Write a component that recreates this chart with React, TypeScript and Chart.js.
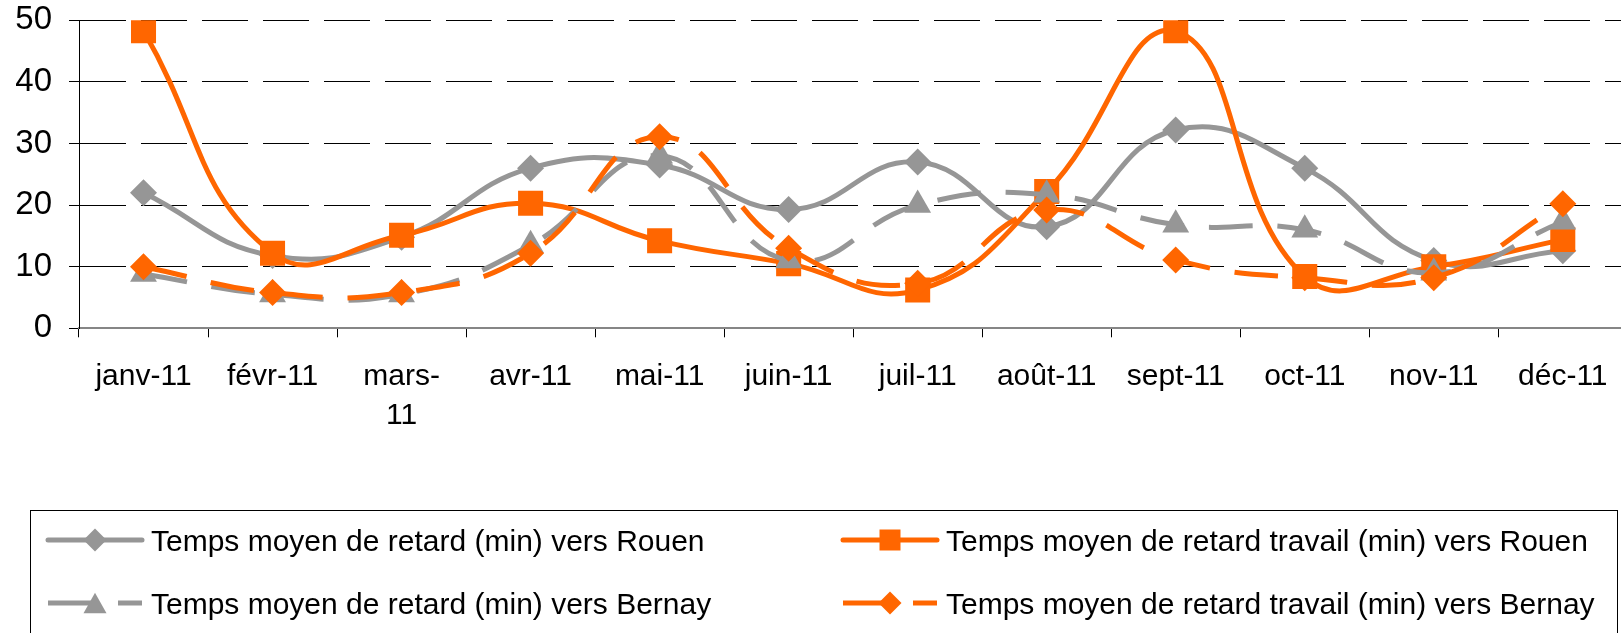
import React, { useEffect, useRef } from 'react';
import { Chart, registerables } from 'chart.js';

Chart.register(...registerables);

// ---- data ----
const CATEGORIES: (string | string[])[] = [
  'janv-11', 'févr-11', ['mars-', '11'], 'avr-11', 'mai-11', 'juin-11',
  'juil-11', 'août-11', 'sept-11', 'oct-11', 'nov-11', 'déc-11',
];
const SERIES_LABELS = [
  'Temps moyen de retard (min) vers Rouen',
  'Temps moyen de retard travail (min) vers Rouen',
  'Temps moyen de retard (min) vers Bernay',
  'Temps moyen de retard travail (min) vers Bernay',
];
const RETARD_ROUEN = [22, 11.8, 14.8, 26, 26.5, 19.3, 27, 16.5, 32.2, 26, 11, 12.6];
const TRAVAIL_ROUEN = [48.3, 12.2, 15.1, 20.3, 14.2, 10.5, 6.2, 22.2, 48.3, 8.4, 10, 14.4];
const RETARD_BERNAY = [8.8, 5.5, 5.5, 13.5, 28, 11, 20, 21.7, 16.8, 16, 9, 17.3];
const TRAVAIL_BERNAY = [10, 5.8, 5.8, 12.2, 31.1, 13, 7.3, 19.2, 11.1, 8.2, 8.2, 20.2];
const Y_TICKS = [0, 10, 20, 30, 40, 50];

const GRAY = '#969696';
const ORANGE = '#FF6600';
const FONT = "'Liberation Sans', Arial, sans-serif";

type Style = { color: string; dashed: boolean; shape: 'rectRot' | 'rect' | 'triangle' };
const STYLES: Style[] = [
  { color: GRAY, dashed: false, shape: 'rectRot' },
  { color: ORANGE, dashed: false, shape: 'rect' },
  { color: GRAY, dashed: true, shape: 'triangle' },
  { color: ORANGE, dashed: true, shape: 'rectRot' },
];

function drawMarker(ctx: CanvasRenderingContext2D, shape: string, x: number, y: number, s: number) {
  ctx.beginPath();
  if (shape === 'rect') {
    ctx.rect(x - s / 2, y - s / 2, s, s);
  } else if (shape === 'rectRot') {
    const r = s / 2;
    ctx.moveTo(x - r, y);
    ctx.lineTo(x, y - r);
    ctx.lineTo(x + r, y);
    ctx.lineTo(x, y + r);
    ctx.closePath();
  } else {
    const h = s * 0.9;
    ctx.moveTo(x, y - h / 2);
    ctx.lineTo(x + s / 2, y + h / 2);
    ctx.lineTo(x - s / 2, y + h / 2);
    ctx.closePath();
  }
  ctx.fill();
}

const legendPlugin = {
  id: 'boxLegend',
  afterDraw(chart: any) {
    const ctx: CanvasRenderingContext2D = chart.ctx;
    ctx.save();
    ctx.strokeStyle = '#000';
    ctx.lineWidth = 1;
    ctx.setLineDash([]);
    ctx.strokeRect(30.5, 510.5, 1587, 200);
    const cols = [48, 843];
    const rows = [540, 603];
    SERIES_LABELS.forEach((label, i) => {
      const st = STYLES[i];
      const x0 = cols[i % 2];
      const x1 = x0 + 94;
      const y = rows[Math.floor(i / 2)];
      ctx.strokeStyle = st.color;
      ctx.fillStyle = st.color;
      ctx.lineWidth = 5;
      if (st.dashed) {
        ctx.setLineDash([44, 26]);
        ctx.lineCap = 'butt';
      } else {
        ctx.setLineDash([]);
        ctx.lineCap = 'round';
      }
      ctx.beginPath();
      ctx.moveTo(x0, y);
      ctx.lineTo(x1, y);
      ctx.stroke();
      ctx.setLineDash([]);
      drawMarker(ctx, st.shape, (x0 + x1) / 2, y, st.shape === 'rect' ? 21 : 23);
      ctx.fillStyle = '#000';
      ctx.font = `30px ${FONT}`;
      ctx.textAlign = 'left';
      ctx.textBaseline = 'alphabetic';
      ctx.fillText(label, x1 + 9, y + 10.7);
    });
    ctx.restore();
  },
};

export default function App() {
  const ref = useRef<HTMLCanvasElement | null>(null);

  useEffect(() => {
    if (!ref.current) return;
    const seriesData = [RETARD_ROUEN, TRAVAIL_ROUEN, RETARD_BERNAY, TRAVAIL_BERNAY];
    const radius = (shape: string) => (shape === 'rect' ? 17.7 : shape === 'triangle' ? 15.5 : 13.5);
    const chart = new Chart(ref.current, {
      type: 'line',
      data: {
        labels: CATEGORIES as any,
        datasets: seriesData.map((d, i) => ({
          label: SERIES_LABELS[i],
          data: d,
          borderColor: STYLES[i].color,
          backgroundColor: STYLES[i].color,
          borderWidth: 5,
          borderDash: STYLES[i].dashed ? [44, 25] : [],
          tension: 0.45,
          fill: false,
          pointStyle: STYLES[i].shape,
          pointRadius: radius(STYLES[i].shape),
          pointBackgroundColor: STYLES[i].color,
          pointBorderWidth: 0,
          pointHoverRadius: radius(STYLES[i].shape),
          order: 4 - i,
        })),
      },
      options: {
        animation: false,
        responsive: false,
        devicePixelRatio: 1,
        layout: { autoPadding: false, padding: { left: 0, top: 20.3, right: 12.7, bottom: 0 } },
        plugins: { legend: { display: false }, tooltip: { enabled: false } },
        scales: {
          x: {
            offset: true,
            grid: {
              offset: true,
              drawOnChartArea: false,
              drawTicks: true,
              tickLength: 9,
              color: '#000',
              tickColor: '#000',
              lineWidth: 1,
            },
            border: { display: true, color: '#868686', width: 2 },
            ticks: {
              color: '#000',
              font: { family: FONT, size: 30, lineHeight: 1.33 },
              padding: 19,
              maxRotation: 0,
              minRotation: 0,
              autoSkip: false,
            },
            afterFit: (s: any) => {
              s.height = 660 - 328.3;
              s.paddingLeft = 0;
              s.paddingRight = 0;
            },
          },
          y: {
            min: 0,
            max: 50,
            afterBuildTicks: (s: any) => { s.ticks = Y_TICKS.map((v) => ({ value: v })); },
            ticks: {
              color: '#000',
              font: { family: FONT, size: 33 },
              padding: 17,
            },
            grid: {
              color: (c: any) => (c.tick && c.tick.value === 0 ? 'rgba(0,0,0,0)' : '#000'),
              lineWidth: 1,
              tickLength: 10,
              tickColor: '#000',
              tickBorderDash: [],
              drawTicks: true,
            },
            border: { display: true, color: '#000', width: 1, dash: [46, 15] },
            afterFit: (s: any) => {
              s.width = 79;
              s.paddingTop = 0;
              s.paddingBottom = 0;
            },
          },
        },
      },
      plugins: [legendPlugin],
    });
    return () => chart.destroy();
  }, []);

  return (
    <div style={{ position: 'fixed', left: 0, top: 0, width: 1621, height: 633, overflow: 'hidden', background: '#fff' }}>
      <canvas ref={ref} width={1640} height={660} style={{ display: 'block', width: 1640, height: 660 }} />
    </div>
  );
}
